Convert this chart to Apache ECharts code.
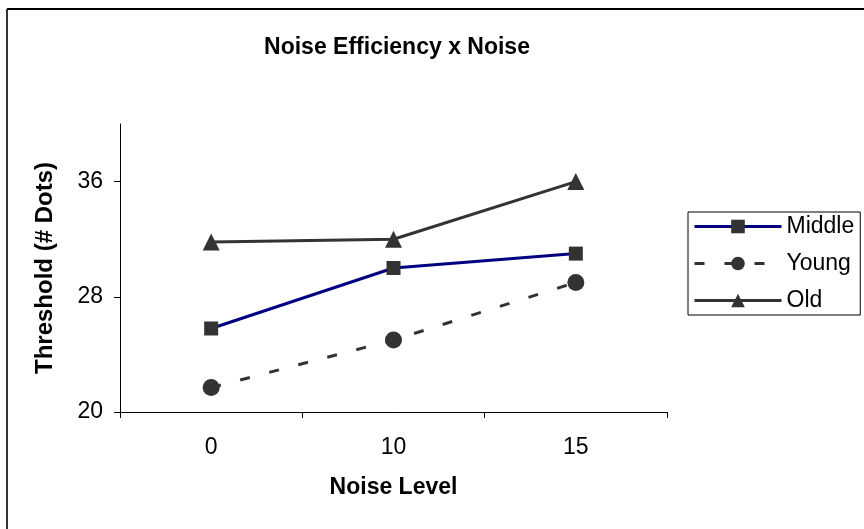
<!DOCTYPE html>
<html>
<head>
<meta charset="utf-8">
<script src="https://cdn.jsdelivr.net/npm/echarts@6/dist/echarts.min.js"></script>
<style>
html,body{margin:0;padding:0;background:#fff;}
#chart{width:864px;height:529px;}
</style>
</head>
<body>
<div id="chart"></div>
<script>
const categories = ['0', '10', '15'];
const middle = [25.8, 30.0, 31.0];
const young = [21.7, 25.0, 29.0];
const old = [31.8, 32.0, 36.0];
const yTicks = [20, 28, 36];

const FONT = '"Liberation Sans", Arial, sans-serif';
const chart = echarts.init(document.getElementById('chart'), null, {renderer: 'canvas'});
chart.setOption({
  backgroundColor: '#fff',
  animation: false,
  title: {
    text: 'Noise Efficiency x Noise',
    left: 392, top: 31, textAlign: 'center',
    textStyle: {fontFamily: FONT, fontSize: 23, fontWeight: 'bold', color: '#000'}
  },
  graphic: [
    {type: 'line', shape: {x1: 7, y1: 9, x2: 864, y2: 9}, style: {stroke: '#000', lineWidth: 2}},
    {type: 'line', shape: {x1: 7, y1: 9, x2: 7, y2: 529}, style: {stroke: '#333', lineWidth: 2}}
  ],
  legend: {
    orient: 'vertical', left: 688, top: 212,
    borderColor: '#000', borderWidth: 1, borderRadius: 0,
    padding: [3, 6, 3, 5], itemGap: 14, itemWidth: 87, itemHeight: 17,
    lineStyle: {width: 3},
    textStyle: {fontFamily: FONT, fontSize: 23, color: '#000'},
    data: ['Middle', 'Young', 'Old']
  },
  grid: {left: 120, right: 197, top: 124, bottom: 117},
  xAxis: {
    type: 'category', data: categories, boundaryGap: true,
    name: 'Noise Level', nameLocation: 'middle', nameGap: 64,
    nameTextStyle: {fontFamily: FONT, fontSize: 23, fontWeight: 'bold', color: '#000'},
    axisLine: {lineStyle: {color: '#000', width: 1}},
    axisTick: {show: true, length: 6, lineStyle: {color: '#000'}},
    axisLabel: {fontFamily: FONT, fontSize: 23, color: '#000', margin: 24}
  },
  yAxis: {
    type: 'value', min: 20, max: 40, interval: 8,
    name: 'Threshold (# Dots)', nameLocation: 'middle', nameGap: 63, nameRotate: 90,
    nameTextStyle: {fontFamily: FONT, fontSize: 24, fontWeight: 'bold', color: '#000'},
    axisLine: {show: true, lineStyle: {color: '#000', width: 1}},
    axisTick: {show: true, length: 6, lineStyle: {color: '#000'}, customValues: yTicks},
    axisLabel: {fontFamily: FONT, fontSize: 23, color: '#000', margin: 17, customValues: yTicks},
    splitLine: {show: false}
  },
  series: [
    {
      name: 'Middle', type: 'line', data: middle,
      symbol: 'rect', symbolSize: 14,
      lineStyle: {color: '#000080', width: 3},
      itemStyle: {color: '#333333'}
    },
    {
      name: 'Young', type: 'line', data: young,
      symbol: 'circle', symbolSize: 17,
      lineStyle: {color: '#333333', width: 3, type: [10, 20]},
      itemStyle: {color: '#333333'}
    },
    {
      name: 'Old', type: 'line', data: old,
      symbol: 'triangle', symbolSize: 17,
      lineStyle: {color: '#333333', width: 3},
      itemStyle: {color: '#333333'}
    }
  ]
});
</script>
</body>
</html>
